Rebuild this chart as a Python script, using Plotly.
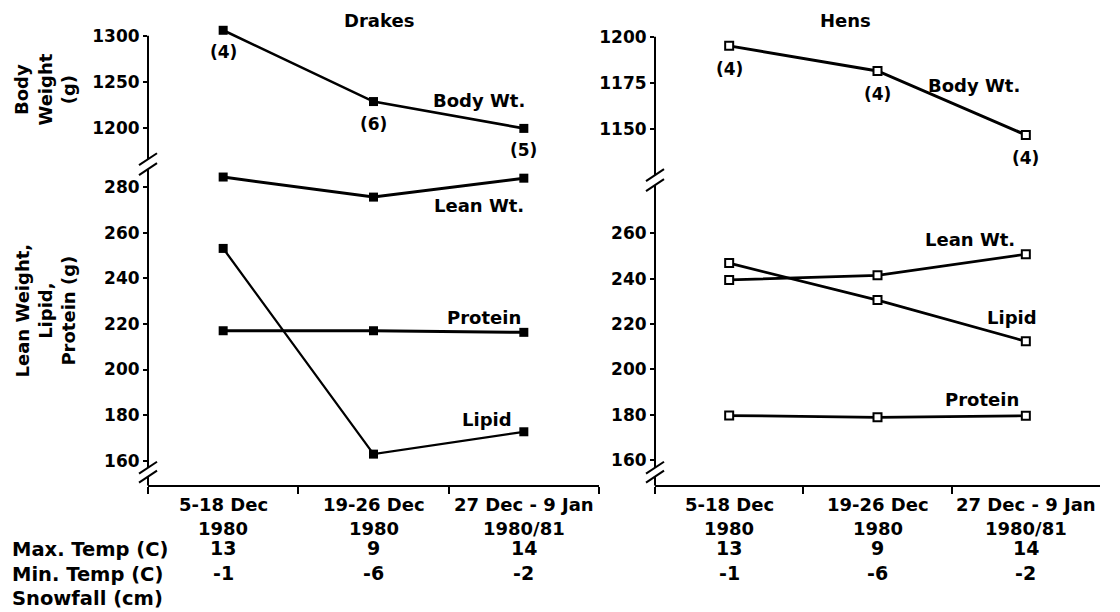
import plotly.graph_objects as go

# ---------------- data ----------------
periods = ["5-18 Dec", "19-26 Dec", "27 Dec - 9 Jan"]
years = ["1980", "1980", "1980/81"]
max_temp = ["13", "9", "14"]
min_temp = ["-1", "-6", "-2"]

drake_body = [1306, 1229, 1200]
drake_n = [4, 6, 5]
drake_lean = [284.4, 275.6, 283.9]
drake_protein = [217.0, 217.0, 216.3]
drake_lipid = [253.1, 162.9, 172.7]

hen_body = [1195.1, 1181.5, 1146.7]
hen_n = [4, 4, 4]
hen_lean = [239.5, 241.5, 250.8]
hen_protein = [179.7, 178.9, 179.6]
hen_lipid = [246.9, 230.6, 212.4]

drake_body_ticks = [1200, 1250, 1300]
hen_body_ticks = [1150, 1175, 1200]
drake_comp_ticks = [160, 180, 200, 220, 240, 260, 280]
hen_comp_ticks = [160, 180, 200, 220, 240, 260]

# ---------------- helpers ----------------
W, H = 1120, 612
FAM = "DejaVu Sans"


def px(x):
    return x / W


def py(y):
    return 1 - y / H


def font(size=18):
    return dict(family=FAM, size=size, color="black", weight="bold")


cats = periods

fig = go.Figure()


def add_series(xa, ya, vals, filled, width):
    if filled:
        marker = dict(symbol="square", size=9, color="black")
    else:
        marker = dict(symbol="square", size=8, color="white",
                      line=dict(color="black", width=2))
    fig.add_trace(go.Scatter(x=cats, y=vals, xaxis=xa, yaxis=ya,
                             mode="lines+markers", cliponaxis=False,
                             line=dict(color="black", width=width),
                             marker=marker, hoverinfo="skip"))


add_series("x", "y", drake_body, True, 2.6)
add_series("x", "y2", drake_lean, True, 3)
add_series("x", "y2", drake_protein, True, 3)
add_series("x", "y2", drake_lipid, True, 2.3)
add_series("x2", "y3", hen_body, False, 3)
add_series("x2", "y4", hen_lean, False, 2.7)
add_series("x2", "y4", hen_lipid, False, 2.7)
add_series("x2", "y4", hen_protein, False, 2.7)

ann = []


def cat_text(xa, i, text, y, size=18):
    ann.append(dict(x=cats[i], y=py(y), xref=xa, yref="paper", text=text,
                    showarrow=False, font=font(size), xanchor="center",
                    yanchor="middle"))


for i in range(3):
    ann.append(dict(x=cats[i], y=drake_body[i], xref="x", yref="y",
                    text=f"({drake_n[i]})", showarrow=False, yshift=-22,
                    font=font(17), yanchor="middle"))
    ann.append(dict(x=cats[i], y=hen_body[i], xref="x2", yref="y3",
                    text=f"({hen_n[i]})", showarrow=False, yshift=-23,
                    font=font(17), yanchor="middle"))
    for xa in ("x", "x2"):
        cat_text(xa, i, periods[i], 507)
        cat_text(xa, i, years[i], 531)
        cat_text(xa, i, max_temp[i], 551, 19)
        cat_text(xa, i, min_temp[i], 576, 19)


def label(text, x, y, size=18, xanchor="center", angle=0):
    ann.append(dict(x=px(x), y=py(y), xref="paper", yref="paper", text=text,
                    showarrow=False, font=font(size), xanchor=xanchor,
                    yanchor="middle", textangle=angle))


label("Drakes", 379, 21)
label("Hens", 845, 21)
label("Body Wt.", 479, 101)
label("Lean Wt.", 479, 207)
label("Protein", 484, 319)
label("Lipid", 487, 422)
label("Body Wt.", 974, 86)
label("Lean Wt.", 970, 241)
label("Lipid", 1012, 319)
label("Protein", 982, 401)
label("Body<br>Weight<br>(g)", 45, 90, angle=-90)
label("Lean Weight,<br>Lipid,<br>Protein (g)", 46, 312, angle=-90)
label("Max. Temp (C)", 10, 552, size=19.5, xanchor="left")
label("Min. Temp (C)", 10, 577, size=19.5, xanchor="left")
label("Snowfall (cm)", 10, 601, size=19.5, xanchor="left")

# axis lines and breaks
shapes = []


def seg(x0, y0, x1, y1, w=2):
    shapes.append(dict(type="line", xref="paper", yref="paper",
                       x0=px(x0), y0=py(y0), x1=px(x1), y1=py(y1),
                       line=dict(color="black", width=w)))


def brk(cx, cy):
    seg(cx - 9, cy + 6, cx + 9, cy - 6, 2)


for ax_x, up_top, up_bot, lo_top in [(148, 36, 160, 170), (655, 37, 176, 186)]:
    seg(ax_x, up_top, ax_x, up_bot)
    seg(ax_x, lo_top, ax_x, 470)
    seg(ax_x, 479, ax_x, 488)
    brk(ax_x, up_bot)
    brk(ax_x, lo_top)
    brk(ax_x, 470)
    brk(ax_x, 479)

xcommon = dict(type="category", categoryorder="array", categoryarray=cats,
               range=[-0.5, 2.5], anchor="free", position=py(488),
               showline=True, linewidth=2, linecolor="black",
               ticks="outside", tickson="boundaries", ticklen=7, tickwidth=2,
               tickcolor="black", showticklabels=False, showgrid=False,
               zeroline=False, fixedrange=True)
ycommon = dict(showline=False, ticks="outside", ticklen=4, tickwidth=2,
               tickcolor="black", tickfont=font(17), showgrid=False,
               zeroline=False, fixedrange=True, tickmode="array")

fig.update_layout(
    width=W, height=H, margin=dict(l=0, r=0, t=0, b=0),
    paper_bgcolor="white", plot_bgcolor="white", showlegend=False,
    xaxis=dict(domain=[px(148), px(599)], **xcommon),
    xaxis2=dict(domain=[px(655), px(1100)], **xcommon),
    yaxis=dict(domain=[py(160), py(15)], anchor="x",
               range=[1166.7, 1322.6], tickvals=drake_body_ticks, **ycommon),
    yaxis2=dict(domain=[py(470), py(170)], anchor="x",
                range=[156.95, 287.85], tickvals=drake_comp_ticks, **ycommon),
    yaxis3=dict(domain=[py(176), py(15)], anchor="x2",
                range=[1124.9, 1211.9], tickvals=hen_body_ticks, **ycommon),
    yaxis4=dict(domain=[py(470), py(186)], anchor="x2",
                range=[156.7, 281.3], tickvals=hen_comp_ticks, **ycommon),
    annotations=ann, shapes=shapes,
)

fig.write_html("out.html",
               config={"displayModeBar": False},
               post_script="document.body.style.margin='0';"
                           "document.body.style.overflow='hidden';")
